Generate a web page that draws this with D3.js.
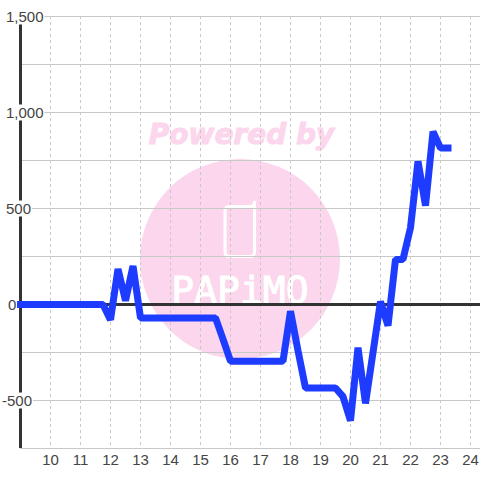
<!DOCTYPE html>
<html>
<head>
<meta charset="utf-8">
<script src="https://d3js.org/d3.v7.min.js"></script>
<style>
	html, body { margin: 0; padding: 0; background: #fff; }
	svg { display: block; }
	text { font-family: "Liberation Sans", Arial, sans-serif; }
</style>
</head>
<body>
<svg id="chart" width="480" height="480"></svg>
<script>
	// hours, one point per quarter hour
	var hours = [9, 9.25, 9.5, 9.75, 10, 10.25, 10.5, 10.75, 11, 11.25, 11.5, 11.75,
		12, 12.25, 12.5, 12.75, 13, 13.25, 13.5, 13.75, 14, 14.25, 14.5, 14.75,
		15, 15.25, 15.5, 15.75, 16, 16.25, 16.5, 16.75, 17, 17.25, 17.5, 17.75,
		18, 18.25, 18.5, 18.75, 19, 19.25, 19.5, 19.75, 20, 20.25, 20.5, 20.75,
		21, 21.25, 21.5, 21.75, 22, 22.25, 22.5, 22.75, 23, 23.25]
	var values = [0, 0, 0, 0, 0, 0, 0, 0, 0, 0, 0, 0,
		-80, 185, 20, 200, -70, -70, -70, -70, -70, -70, -70, -70,
		-70, -70, -70, -180, -295, -295, -295, -295, -295, -295, -295, -295,
		-35, -240, -435, -435, -435, -435, -435, -480, -605, -225, -515, -250,
		15, -110, 235, 235, 400, 745, 515, 900, 815, 815]
	var xTicks = [10, 11, 12, 13, 14, 15, 16, 17, 18, 19, 20, 21, 22, 23, 24]
	var yLabelled = [1500, 1000, 500, 0, -500]
	var yGrid = [1500, 1250, 1000, 750, 500, 250, -250, -500, -750]

	var svg = d3.select('#chart')
	var x = d3.scaleLinear().domain([9, 24]).range([20, 470])
	var y = d3.scaleLinear().domain([1500, -750]).range([16, 448])

	// watermark
	var pink = '#fbd6ec'
	svg.append('text').attr('x', 241.5).attr('y', 144).attr('text-anchor', 'middle')
		.style('font-family', '"DejaVu Sans"').style('font-weight', 'bold').style('font-style', 'italic')
		.style('font-size', '28px').attr('fill', pink).attr('stroke', pink).attr('stroke-width', 1)
		.text('Powered by')
	svg.append('circle').attr('cx', 240).attr('cy', 259).attr('r', 100).attr('fill', pink)
	svg.append('path')
		.attr('d', 'M254.5,202V252Q254.5,256.5 250,256.5H229Q225,256.5 225,252V211Q225,206.5 229,206.5H250Q254.5,206.5 254.5,202')
		.attr('fill', 'none').attr('stroke', '#fff').attr('stroke-width', 3).attr('stroke-linecap', 'round')
	svg.append('text').attr('x', 240).attr('y', 303).attr('text-anchor', 'middle')
		.attr('fill', '#fff').attr('stroke', '#fff').attr('stroke-width', 1)
		.style('font-family', '"DejaVu Sans Mono"').style('font-size', '38px')
		.text('PAPiMO')

	// grid
	var xGrid = svg.append('g').call(d3.axisBottom(x).tickValues(xTicks).tickSize(0).tickFormat(''))
	xGrid.select('.domain').remove()
	xGrid.selectAll('.tick line').attr('y1', y(1500)).attr('y2', y(-750))
		.attr('stroke', '#c8c8c8').attr('stroke-dasharray', '3,3')

	var yGridG = svg.append('g').attr('transform', 'translate(20,0)')
		.call(d3.axisLeft(y).tickValues(yGrid).tickSize(-460).tickFormat(''))
	yGridG.select('.domain').remove()
	yGridG.selectAll('.tick line').attr('stroke', '#c8c8c8')

	// y axis bar and zero line
	svg.append('line').attr('x1', x(9) + 0.5).attr('x2', x(9) + 0.5).attr('y1', y(1500)).attr('y2', y(-750))
		.attr('stroke', '#333').attr('stroke-width', 3)
	svg.append('line').attr('x1', x(9)).attr('x2', 480).attr('y1', y(0) + 0.5).attr('y2', y(0) + 0.5)
		.attr('stroke', '#333').attr('stroke-width', 3)

	// y labels sit on white boxes that cut the axis bar
	var yAxis = svg.append('g')
		.call(d3.axisRight(y).tickValues(yLabelled).tickSize(0).tickFormat(function (d) {
			return d3.format(',')(d).replace('\u2212', '-')
		}))
	yAxis.select('.domain').remove()
	yAxis.selectAll('.tick text')
		.attr('x', function (d) { return d < 0 ? 2 : d == 0 ? 8 : 6 })
		.attr('dy', '0.36em')
		.attr('fill', '#444').style('font-size', '15px').style('text-anchor', 'start')
	yAxis.selectAll('.tick').insert('rect', 'text')
		.each(function () {
			var b = this.parentNode.querySelector('text').getBBox()
			d3.select(this).attr('x', b.x).attr('y', -8).attr('width', b.width + 1).attr('height', 16)
		})
		.attr('fill', '#fff')

	// x labels
	var xAxis = svg.append('g').attr('transform', 'translate(0,448)')
		.call(d3.axisBottom(x).tickValues(xTicks).tickSize(0).tickPadding(6).tickFormat(d3.format('d')))
	xAxis.select('.domain').remove()
	xAxis.selectAll('.tick text').attr('fill', '#444').style('font-size', '15px')

	// series
	var line = d3.line().x(function (d, i) { return x(hours[i]) + 0.5 }).y(function (d) { return y(d) + 0.5 })
	svg.append('path').datum(values).attr('d', line)
		.attr('fill', 'none').attr('stroke', '#1e3cff').attr('stroke-width', 7)
		.attr('stroke-linecap', 'square').attr('stroke-linejoin', 'bevel')
</script>
</body>
</html>
